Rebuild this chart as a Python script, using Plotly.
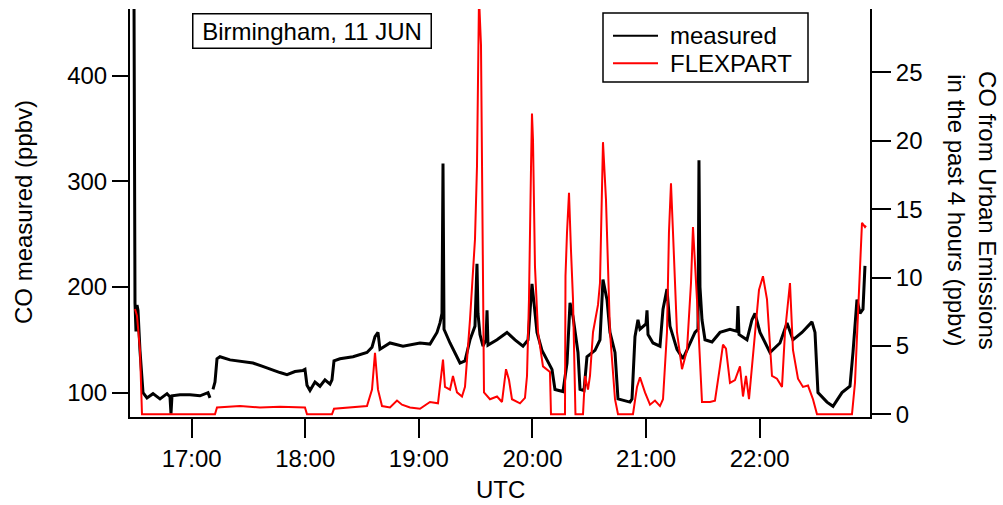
import pandas as pd
import plotly.graph_objects as go

DATE = "2011-06-11 "

# CO measured (ppbv), left axis
measured_time = [
    "16:29:00", "16:29:32", "16:30:03", "16:30:35", "16:31:07", "16:31:38", "16:32:41", "16:34:17",
    "16:36:23", "16:39:34", "16:43:16", "16:46:58", "16:48:32", "16:49:04", "16:49:36", "16:53:49",
    "16:59:06", "17:04:23", "17:08:37", "17:09:40", "17:10:28", "17:11:15", "17:12:18", "17:13:22",
    "17:14:57", "17:20:14", "17:25:31", "17:32:23", "17:37:08", "17:41:22", "17:46:38", "17:50:20",
    "17:54:34", "17:58:47", "17:59:50", "18:00:54", "18:02:29", "18:05:07", "18:07:46", "18:10:24",
    "18:13:03", "18:14:06", "18:15:10", "18:18:20", "18:25:12", "18:32:35", "18:35:14", "18:36:49",
    "18:38:24", "18:39:27", "18:44:44", "18:51:36", "19:00:35", "19:05:52", "19:09:34", "19:11:09",
    "19:12:12", "19:12:44", "19:13:16", "19:16:26", "19:20:08", "19:21:43", "19:24:21", "19:26:59",
    "19:29:38", "19:30:41", "19:31:13", "19:32:16", "19:33:52", "19:35:27", "19:35:59", "19:36:30",
    "19:41:16", "19:46:32", "19:50:46", "19:54:59", "19:57:38", "19:59:44", "20:00:48", "20:02:23",
    "20:05:01", "20:07:40", "20:10:18", "20:11:53", "20:16:07", "20:18:14", "20:19:49", "20:21:24",
    "20:24:02", "20:25:06", "20:27:13", "20:28:47", "20:33:01", "20:35:39", "20:37:14", "20:39:21",
    "20:40:56", "20:43:35", "20:45:10", "20:51:30", "20:52:34", "20:54:08", "20:55:43", "20:56:47",
    "20:59:57", "21:00:29", "21:01:01", "21:03:39", "21:07:20", "21:08:56", "21:11:02", "21:12:37",
    "21:16:19", "21:19:29", "21:23:11", "21:25:50", "21:27:25", "21:27:56", "21:28:28", "21:29:32",
    "21:31:07", "21:34:49", "21:39:02", "21:44:19", "21:48:01", "21:48:32", "21:49:04", "21:53:17",
    "21:55:56", "21:57:31", "22:00:10", "22:05:26", "22:10:43", "22:14:27", "22:17:35", "22:22:20",
    "22:27:37", "22:29:13", "22:30:47", "22:35:33", "22:38:43", "22:43:28", "22:47:41", "22:49:17",
    "22:51:23", "22:52:59", "22:54:34", "22:55:37",
]
measured_co = [
    600, 470, 185, 158, 183, 178, 140, 100,
    95, 99, 94, 99, 96, 80, 97, 98,
    98, 97, 100, 95, None, 103, 110, 132,
    134, 131, 130, 128, 125, 122, 119, 117,
    120, 121, 122, 107, 102, 110, 106, 112,
    108, 112, 130, 132, 134, 138, 143, 153,
    157, 141, 147, 144, 147, 146, 157, 166,
    175, 317, 160, 147, 134, 128, 130, 150,
    163, 222, 175, 155, 144, 150, 178, 145,
    150, 157, 150, 144, 150, 203, 185, 157,
    140, 131, 122, 103, 101, 128, 185, 172,
    138, 103, 102, 134, 140, 150, 207, 188,
    157, 138, 94, 91, 94, 153, 169, 160,
    165, 178, 155, 147, 144, 179, 198, 163,
    141, 132, 147, 157, 160, 320, 200, 169,
    150, 148, 157, 160, 158, 182, 155, 150,
    169, 175, 157, 138, 147, 166, 150, 157,
    167, 157, 100, 91, 87, 100, 106, 138,
    188, 175, 179, 220,
]

# FLEXPART CO from urban emissions in the past 4 hours (ppbv), right axis
flexpart_time = [
    "16:30:03", "16:31:07", "16:32:41", "16:33:45", "17:12:18", "17:13:22", "17:25:31", "17:36:04",
    "17:46:38", "17:57:13", "17:59:50", "18:00:54", "18:14:06", "18:15:10", "18:23:37", "18:32:35",
    "18:35:14", "18:36:49", "18:38:24", "18:40:31", "18:44:44", "18:48:26", "18:51:04", "18:55:18",
    "19:00:35", "19:05:52", "19:10:05", "19:11:09", "19:12:44", "19:13:47", "19:16:26", "19:18:00",
    "19:20:08", "19:22:46", "19:24:21", "19:26:59", "19:29:38", "19:30:41", "19:31:45", "19:32:48",
    "19:33:52", "19:34:23", "19:37:33", "19:41:16", "19:43:54", "19:46:01", "19:47:36", "19:49:10",
    "19:53:24", "19:56:02", "19:57:06", "19:58:09", "19:59:13", "19:59:44", "20:00:16", "20:01:19",
    "20:02:55", "20:05:33", "20:09:14", "20:09:46", "20:17:10", "20:17:26", "20:18:14", "20:19:17",
    "20:20:20", "20:21:24", "20:22:42", "20:26:41", "20:27:44", "20:29:19", "20:30:22", "20:31:58",
    "20:34:36", "20:35:39", "20:37:14", "20:38:49", "20:40:56", "20:43:35", "20:45:10", "20:53:05",
    "20:55:12", "20:56:47", "20:59:25", "21:02:04", "21:04:42", "21:07:20", "21:08:56", "21:11:02",
    "21:12:05", "21:13:09", "21:14:13", "21:16:19", "21:18:58", "21:21:36", "21:23:43", "21:24:46",
    "21:26:53", "21:29:32", "21:33:45", "21:36:23", "21:39:02", "21:40:37", "21:42:12", "21:44:19",
    "21:46:57", "21:49:36", "21:51:11", "21:52:46", "21:54:21", "21:56:28", "21:59:38", "22:01:44",
    "22:03:52", "22:06:30", "22:09:08", "22:11:47", "22:13:22", "22:16:00", "22:17:35", "22:20:14",
    "22:22:52", "22:25:31", "22:28:09", "22:30:16", "22:48:45", "22:50:20", "22:51:55", "22:54:02",
    "22:55:37", "22:56:09",
]
flexpart_co = [
    7.7, 7.2, 4.7, 0.0, 0.0, 0.5, 0.6, 0.5,
    0.55, 0.5, 0.5, 0.0, 0.0, 0.4, 0.5, 0.6,
    1.8, 4.5, 1.8, 0.6, 0.5, 1.0, 0.7, 0.5,
    0.4, 0.9, 0.8, 2.3, 4.0, 2.0, 1.8, 2.8,
    1.6, 1.3, 2.0, 6.9, 12.8, 18.1, 30.5, 27.0,
    10.8, 1.6, 1.1, 1.3, 0.9, 3.3, 2.5, 1.1,
    0.8, 1.2, 2.8, 8.4, 18.0, 22.0, 20.1, 10.8,
    6.0, 3.5, 3.1, 0.0, 0.0, 10.1, 13.3, 16.2,
    12.0, 8.4, 0.0, 0.0, 2.8, 1.8, 2.8, 6.0,
    8.0, 9.6, 19.9, 15.7, 6.0, 1.1, 0.0, 0.0,
    2.0, 2.7, 1.6, 0.7, 1.0, 0.6, 1.1, 6.0,
    13.3, 16.9, 13.3, 6.0, 3.3, 4.7, 9.6, 13.7,
    8.4, 0.9, 0.9, 1.0, 3.5, 5.1, 4.8, 2.3,
    2.5, 3.5, 1.3, 2.8, 1.1, 4.2, 9.1, 10.1,
    8.4, 2.8, 2.6, 2.0, 6.0, 9.6, 4.7, 2.6,
    2.0, 2.1, 1.1, 0.0, 0.0, 2.3, 7.2, 14.0,
    13.7, 13.8,
]

series_names = ["measured", "FLEXPART"]
series_colors = ["black", "#ff0000"]

left_ticks = [100, 200, 300, 400]
right_ticks = [0, 5, 10, 15, 20, 25]

FONT = "Liberation Sans, Arial, sans-serif"
FS = 24

mt = pd.to_datetime([DATE + t for t in measured_time])
ft = pd.to_datetime([DATE + t for t in flexpart_time])

fig = go.Figure()
fig.add_trace(go.Scatter(x=mt, y=measured_co, mode="lines", name=series_names[0],
                         line=dict(color=series_colors[0], width=3), connectgaps=False,
                         showlegend=False))
fig.add_trace(go.Scatter(x=ft, y=flexpart_co, mode="lines", name=series_names[1],
                         line=dict(color=series_colors[1], width=2), yaxis="y2",
                         showlegend=False))

L, R, T, B = 130, 870, 9, 417
W, H = 1003, 505


def px(xp):
    return (xp - L) / (R - L)


def py(yp):
    return (B - yp) / (B - T)


shapes = [
    # legend frame
    dict(type="rect", xref="paper", yref="paper", x0=px(603), x1=px(808),
         y0=py(82), y1=py(13), line=dict(color="black", width=1.5),
         fillcolor="white", layer="above"),
]
annotations = [
    dict(text="Birmingham, 11 JUN", xref="paper", yref="paper",
         x=px(312), y=py(31), xanchor="center", yanchor="middle",
         width=235, height=31,
         showarrow=False, bordercolor="black", borderwidth=1.5, borderpad=1,
         bgcolor="white", font=dict(size=FS)),
    dict(text="CO measured (ppbv)", xref="paper", yref="paper",
         x=px(23), y=py(212), xanchor="center", yanchor="middle",
         textangle=-90, showarrow=False, font=dict(size=FS)),
    dict(text="CO from Urban Emissions<br>in the past 4 hours (ppbv)",
         xref="paper", yref="paper", x=px(972), y=py(210),
         xanchor="center", yanchor="middle", textangle=90,
         showarrow=False, font=dict(size=FS)),
    dict(text="UTC", xref="paper", yref="paper", x=px(500), y=py(489),
         xanchor="center", yanchor="middle", showarrow=False,
         font=dict(size=FS)),
]
legend_rows = [35.7, 63.3]
for name, color, row in zip(series_names, series_colors, legend_rows):
    shapes.append(dict(type="line", xref="paper", yref="paper",
                       x0=px(613), x1=px(658), y0=py(row), y1=py(row),
                       line=dict(color=color, width=2), layer="above"))
    annotations.append(dict(text=name, xref="paper", yref="paper",
                            x=px(668), y=py(row), xanchor="left", yanchor="middle",
                            showarrow=False, font=dict(size=FS)))

fig.update_layout(
    width=W, height=H,
    margin=dict(l=L, r=W - R, t=T, b=H - B),
    paper_bgcolor="white", plot_bgcolor="white",
    font=dict(family=FONT, size=FS, color="black"),
    showlegend=False,
    xaxis=dict(
        range=[pd.Timestamp(DATE + "16:27:25"), pd.Timestamp(DATE + "22:58:16")],
        tickformat="%H:%M", dtick=3600000, tick0=pd.Timestamp(DATE + "17:00"),
        ticks="outside", ticklen=19, tickwidth=2, tickcolor="black",
        showline=True, linecolor="black", linewidth=2,
        showgrid=False, zeroline=False, tickfont=dict(size=FS),
    ),
    yaxis=dict(
        range=[76.9, 463.3], tickvals=left_ticks,
        ticks="outside", ticklen=16, tickwidth=2, tickcolor="black",
        showline=True, linecolor="black", linewidth=2,
        showgrid=False, zeroline=False, tickfont=dict(size=FS),
    ),
    yaxis2=dict(
        range=[-0.2, 29.64], tickvals=right_ticks, overlaying="y", side="right",
        ticks="outside", ticklen=19, tickwidth=2, tickcolor="black",
        showline=True, linecolor="black", linewidth=2,
        showgrid=False, zeroline=False, tickfont=dict(size=FS),
    ),
    shapes=shapes,
    annotations=annotations,
)

fig.write_html("out.html")
